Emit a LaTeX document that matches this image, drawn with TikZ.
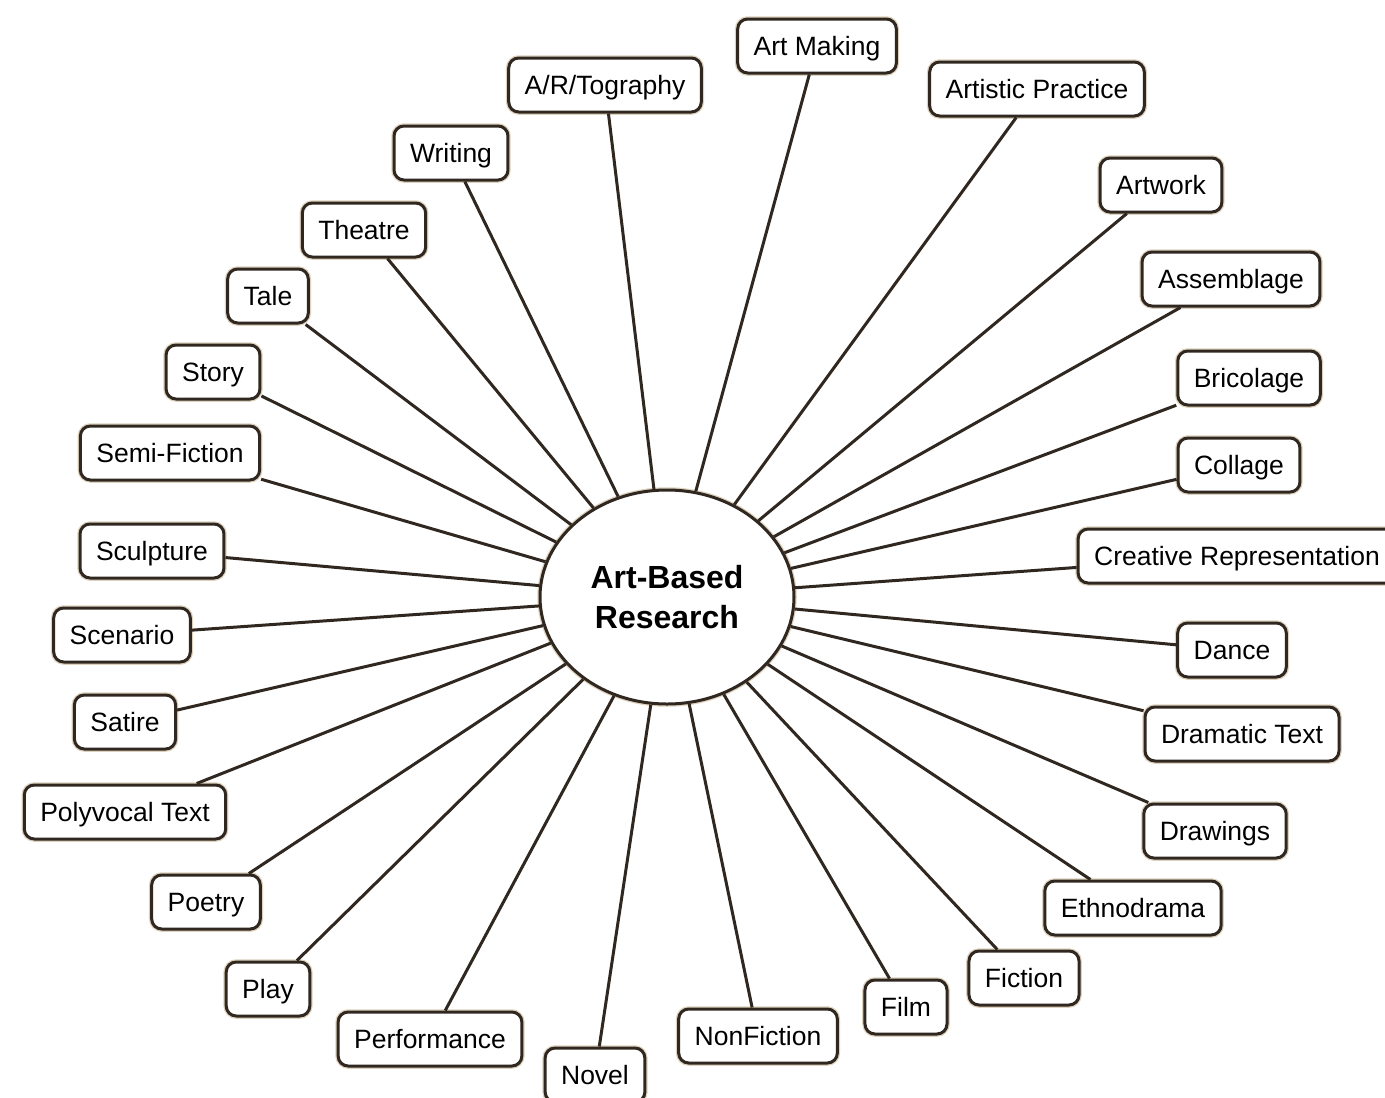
\documentclass[tikz,border=0pt]{standalone}
\usepackage{fontspec}
\setmainfont{Liberation Sans}
\usetikzlibrary{shapes.geometric}
\definecolor{ink}{RGB}{48,40,32}
\definecolor{halo}{RGB}{222,210,190}
\tikzset{
  lbl/.style={draw=ink, line width=3pt, rounded corners=10pt, fill=white,
    inner xsep=16pt, inner ysep=0pt, minimum height=54pt,
    text height=19pt, text depth=0pt,
    font=\fontsize{26.5}{30}\selectfont, text=black,
    preaction={draw=halo, line width=5.5pt}},
  hub/.style={ellipse, draw=ink, line width=3pt, fill=white, inner sep=0pt,
    minimum width=254pt, minimum height=214pt, align=center,
    font=\fontsize{32}{40}\selectfont\bfseries,
    preaction={draw=halo, line width=5.5pt}},
  link/.style={draw=ink, line width=3pt}
}
\begin{document}
\begin{tikzpicture}[x=1pt,y=-1pt]
\useasboundingbox (0,0) rectangle (1385,1098);
\fill[white] (0,0) rectangle (1385,1098);
\node[hub] (c) at (667,597) {Art-Based\\Research};
\foreach \n/\x/\y/\t in {
  am/817/46/{Art Making},
  ar/605/85/{A/R/Tography},
  ap/1037/89/{Artistic Practice},
  wr/451/153/{Writing},
  aw/1161/185/{Artwork},
  th/364/230/{Theatre},
  ta/268/296/{Tale},
  as/1231/279/{Assemblage},
  st/213/372/{Story},
  br/1249/378/{Bricolage},
  sf/170/453/{Semi-Fiction},
  co/1239/465/{Collage},
  sc/152/551/{Sculpture},
  cr/1237/556/{Creative Representation},
  sn/122/635/{Scenario},
  da/1232/650/{Dance},
  sa/125/722/{Satire},
  dt/1242/734/{Dramatic Text},
  pv/125/812/{Polyvocal Text},
  dr/1215/831/{Drawings},
  po/206/902/{Poetry},
  et/1133/908/{Ethnodrama},
  pl/268/989/{Play},
  fi/1024/978/{Fiction},
  fl/906/1007/{Film},
  pe/430/1039/{Performance},
  nf/758/1036/{NonFiction},
  no/595/1075/{Novel}} {
  \node[lbl] (\n) at (\x,\y) {\t};
  \draw[link] (c) -- (\n);
}
\end{tikzpicture}
\end{document}
